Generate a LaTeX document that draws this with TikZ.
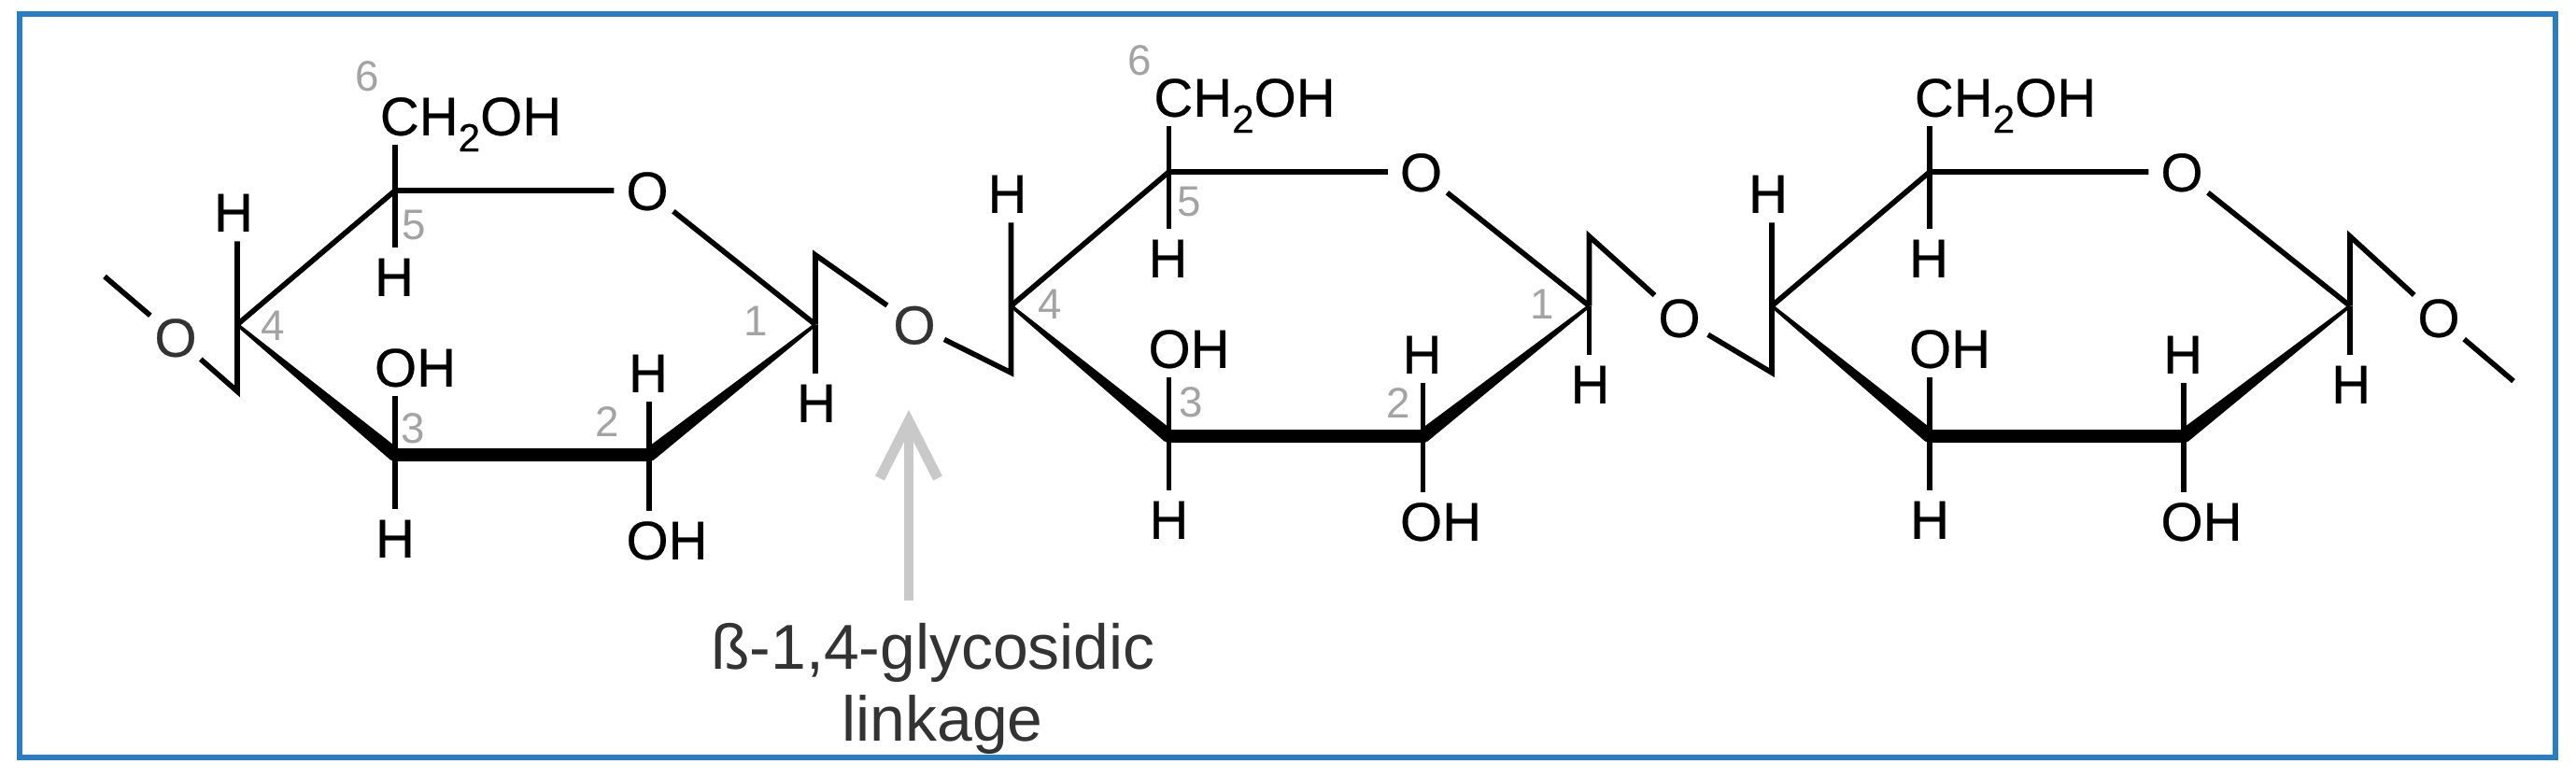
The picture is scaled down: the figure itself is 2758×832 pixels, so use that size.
\documentclass[tikz,border=0pt]{standalone}
\usepackage{fontspec}
\setmainfont{Liberation Sans}
\newfontfamily\lblfont{Liberation Sans}[FakeBold=0.35]
\usetikzlibrary{calc}
\definecolor{frameblue}{HTML}{2A7DC1}
\definecolor{numgray}{HTML}{A3A3A3}
\definecolor{arrowgray}{HTML}{C9C9C9}
\definecolor{softblack}{HTML}{333333}
\tikzset{
  x=0.01cm,y=-0.01cm,
  lbl/.style={font=\lblfont\fontsize{16.5}{18}\selectfont,text height=11.8pt,text depth=0pt,inner sep=2.8pt,text=black},
  oxy/.style={lbl,circle,minimum size=19.9pt,inner sep=0pt},
  num/.style={font=\fontsize{13}{15}\selectfont,text=numgray,inner sep=0pt},
  captext/.style={font=\fontsize{19.3}{22}\selectfont,text=softblack,inner sep=0pt,anchor=base},
  bond/.style={draw=black,line width=1.6pt,line join=miter},
  thickbond/.style={draw=black,line width=4pt},
  pointer/.style={draw=arrowgray,line width=3.1pt,line join=miter},
}
\newcommand{\wedgebond}[2]{\fill[black] ($(#1)!0.5pt!90:(#2)$) -- ($(#1)!0.5pt!-90:(#2)$) -- ($(#2)!2.1pt!90:(#1)$) -- ($(#2)!2.1pt!-90:(#1)$) -- cycle;}
\newcommand{\sugarring}[1]{%
  \coordinate (#1c1) at (873,347.5);
  \coordinate (#1c2) at (695,487);
  \coordinate (#1c3) at (423,487);
  \coordinate (#1c4) at (254,347.5);
  \coordinate (#1c5) at (423,204);
  \coordinate (#1top) at (873,273);
  \coordinate (#1bot) at (254,419);
  \node[oxy] (#1o) at (693,204) {O};
  \node[lbl] (#1ch) at (504,124) {CH\raisebox{-0.3em}{\fontsize{12}{13}\selectfont 2}OH};
  \node[lbl] (#1h1) at (874,431) {H};
  \node[lbl] (#1h2) at (694,399) {H};
  \node[lbl] (#1h3) at (423,576) {H};
  \node[lbl] (#1h4) at (250,227) {H};
  \node[lbl] (#1h5) at (422,296) {H};
  \node[lbl] (#1oh2) at (714,578) {OH};
  \node[lbl] (#1oh3) at (444.5,393) {OH};
  \draw[bond] (#1c4) -- (#1c5) -- (#1o);
  \draw[bond] (#1o) -- (#1c1);
  \draw[bond] (#1c5) -- (#1c5 |- #1ch.south);
  \draw[bond] (#1c5) -- (#1c5 |- #1h5.north);
  \draw[bond] (#1c1) -- (#1c1 |- #1h1.north);
  \draw[bond] (#1c2) -- (#1c2 |- #1h2.south);
  \draw[bond] (#1c2) -- (#1c2 |- #1oh2.north);
  \draw[bond] (#1c3) -- (#1c3 |- #1h3.north);
  \draw[bond] (#1c3) -- (#1c3 |- #1oh3.south);
  \draw[thickbond] (#1c3) -- (#1c2);
  \wedgebond{#1c4}{#1c3}
  \wedgebond{#1c1}{#1c2}
  \fill[black] (#1c3) circle (2pt) (#1c2) circle (2pt);
}
\begin{document}
\begin{tikzpicture}
\useasboundingbox (0,0) rectangle (2758,832);
\fill[white] (0,0) rectangle (2758,832);
\draw[frameblue,line width=1.6pt] (21,15) rectangle (2736,811);

\begin{scope}\sugarring{a}\end{scope}
\begin{scope}[shift={(828.5,-20)}]\sugarring{b}\end{scope}
\begin{scope}[shift={(1643,-20)}]\sugarring{c}\end{scope}

% glycosidic oxygens and chain ends
\coordinate (startend) at (112,296);
\coordinate (stopend) at (2691,408);
\node[oxy,text=softblack] (l0) at (188,361) {O};
\node[oxy,text=softblack] (l1) at (979,347.5) {O};
\node[oxy] (l2) at (1798,340) {O};
\node[oxy] (l3) at (2611,340) {O};

\draw[bond] (startend) -- (l0);
\draw[bond] (l0) -- (abot) -- (ac4) -- (ac4 |- ah4.south);
\draw[bond] (ac1) -- (atop) -- (l1);
\draw[bond] (l1) -- (bbot) -- (bc4) -- (bc4 |- bh4.south);
\draw[bond] (bc1) -- (btop) -- (l2);
\draw[bond] (l2) -- (cbot) -- (cc4) -- (cc4 |- ch4.south);
\draw[bond] (cc1) -- (ctop) -- (l3);
\draw[bond] (l3) -- (stopend);

% carbon numbers, first ring
\node[num] (n16) at (393,82) {6};
\node[num] (n15) at (443,241) {5};
\node[num] (n14) at (292,349) {4};
\node[num] (n13) at (442,459) {3};
\node[num] (n12) at (650,452) {2};
\node[num] (n11) at (809,344) {1};
% carbon numbers, second ring
\node[num] (n26) at (1220,65) {6};
\node[num] (n25) at (1273,216) {5};
\node[num] (n24) at (1124.5,326) {4};
\node[num] (n23) at (1275,431) {3};
\node[num] (n22) at (1497.5,432) {2};
\node[num] (n21) at (1651,326) {1};

% linkage pointer and caption
\coordinate (ptail) at (973,643);
\coordinate (ptip) at (973,451);
\coordinate (pwl) at (942,512);
\coordinate (pwr) at (1004,512);
\draw[pointer] (ptail) -- (ptip);
\draw[pointer] (pwl) -- (ptip) -- (pwr);
\node[captext] (cap1) at (999,716) {ß-1,4-glycosidic};
\node[captext] (cap2) at (1009,793) {linkage};
\end{tikzpicture}
\end{document}
